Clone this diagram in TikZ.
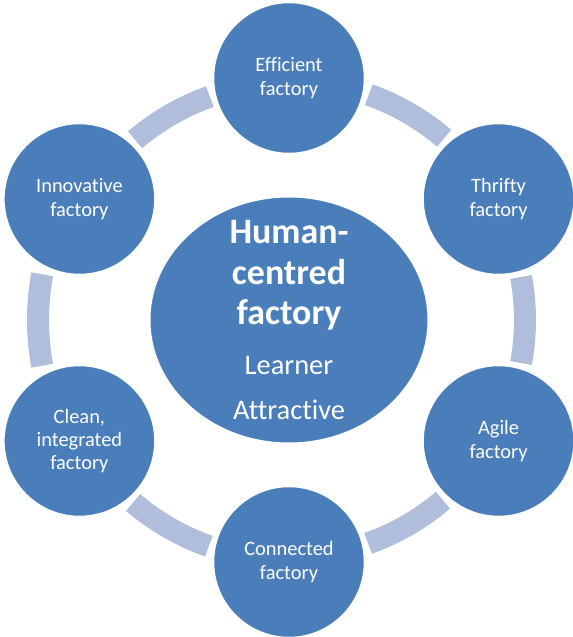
\documentclass[tikz,border=0pt]{standalone}
\usepackage{fontspec}
\setmainfont{Carlito}[RawFeature={-liga}]
\usetikzlibrary{shapes.geometric}
\definecolor{discblue}{RGB}{74,126,187}
\definecolor{ringblue}{RGB}{176,190,220}
\begin{document}
\begin{tikzpicture}[x=1bp,y=1bp,
  band/.style={draw=ringblue, line width=22bp},
  disc/.style={circle, fill=discblue, draw=white, line width=2.5bp,
    minimum size=152bp, inner sep=0pt, text=white, align=center,
    font=\fontsize{20.5}{23.5}\selectfont},
  hubshape/.style={ellipse, fill=discblue, draw=white, line width=2bp,
    minimum width=279bp, minimum height=247bp, inner sep=0pt},
  title/.style={text=white, anchor=base, font=\fontsize{36}{40}\selectfont\bfseries},
  tag/.style={text=white, anchor=base, font=\fontsize{28.5}{32}\selectfont}]
\useasboundingbox (-289,-317) rectangle (284,320);
% light ring segments between the outer discs
\foreach \m/\r in {120/237, 60/239, 0/236, -60/237, -120/240, 180/251}
  \draw[band] ({\m-10.5}:\r) arc[start angle={\m-10.5}, end angle={\m+10.5}, radius=\r];
% central hub
\node[hubshape] (hub) at (0,0) {};
\node[title] (h1) at (0,76) {Human-};
\node[title] (h2) at (0,35) {centred};
\node[title] (h3) at (0,-5) {factory};
\node[tag] (h4) at (0,-55) {Learner};
\node[tag] (h5) at (0,-100) {Attractive};
% outer discs
\node[disc] (eff) at (90:242) {Efficient\\factory};
\node[disc] (thr) at (30:242) {Thrifty\\factory};
\node[disc] (agi) at (-30:242) {Agile\\factory};
\node[disc] (con) at (-90:242) {Connected\\factory};
\node[disc] (cle) at (-150:242) {Clean,\\integrated\\factory};
\node[disc] (inn) at (150:242) {Innovative\\factory};
\end{tikzpicture}
\end{document}
